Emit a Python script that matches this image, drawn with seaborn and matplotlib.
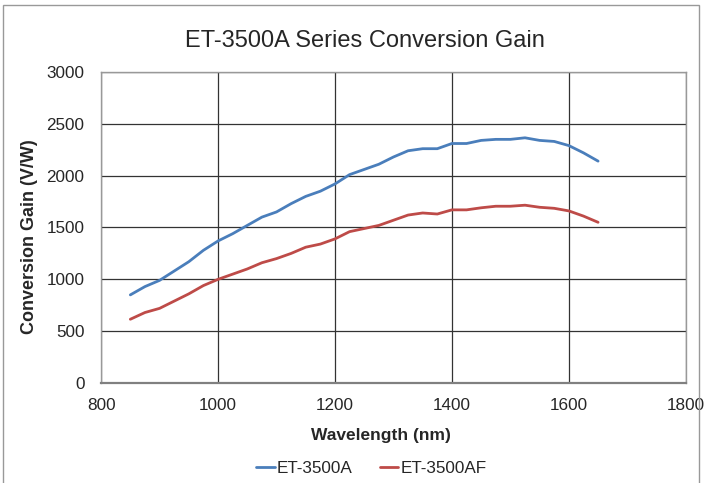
import numpy as np
import pandas as pd
import matplotlib.pyplot as plt
import seaborn as sns
from matplotlib.patches import Rectangle

# wavelength (nm), every 25 nm
wavelength = [850, 875, 900, 925, 950, 975, 1000, 1025, 1050, 1075, 1100,
              1125, 1150, 1175, 1200, 1225, 1250, 1275, 1300, 1325, 1350,
              1375, 1400, 1425, 1450, 1475, 1500, 1525, 1550, 1575, 1600,
              1625, 1650]
gain_a = [850, 930, 990, 1080, 1170, 1280, 1370, 1440, 1520, 1600, 1650,
          1730, 1800, 1850, 1920, 2010, 2060, 2110, 2180, 2240, 2260,
          2260, 2310, 2310, 2340, 2350, 2350, 2365, 2340, 2330, 2290,
          2220, 2140]
gain_af = [615, 680, 720, 790, 860, 940, 1000, 1050, 1100, 1160, 1200,
           1250, 1310, 1340, 1390, 1460, 1490, 1520, 1570, 1620, 1640,
           1630, 1670, 1670, 1690, 1705, 1705, 1715, 1695, 1685, 1660,
           1610, 1550]

df = pd.DataFrame({'Wavelength': wavelength * 2,
                   'Gain': gain_a + gain_af,
                   'Series': ['ET-3500A'] * len(wavelength) + ['ET-3500AF'] * len(wavelength)})

sns.set_style('white')
plt.rcParams['font.family'] = ['Liberation Sans', 'DejaVu Sans']

fig = plt.figure(figsize=(7.07, 4.83), dpi=100)
ax = fig.add_axes([0.143, 0.207, 0.827, 0.644])

sns.lineplot(data=df, x='Wavelength', y='Gain', hue='Series',
             palette=['#4A7EBB', '#BE4B48'], linewidth=2, ax=ax)

ax.set_xlim(800, 1800)
ax.set_ylim(0, 3000)
ax.set_xticks(np.arange(800, 1801, 200))
ax.set_yticks(np.arange(0, 3001, 500))
ax.grid(True, color='#333333', linewidth=0.9)
ax.set_axisbelow(True)
for s in ax.spines.values():
    s.set_color('#999999')
    s.set_linewidth(1.0)
ax.spines['bottom'].set_color('#808080')
ax.spines['bottom'].set_linewidth(1.6)
ax.tick_params(axis='both', which='both', direction='out', length=3.5,
               color='#888888', labelsize=12.3)
ax.tick_params(axis='x', pad=7.5)
ax.tick_params(axis='y', pad=8.5)

fig.text(0.516, 0.915, 'ET-3500A Series Conversion Gain', fontsize=17,
         ha='center', va='center')
ax.set_xlabel('Wavelength (nm)', fontsize=12.5, fontweight='bold')
ax.xaxis.set_label_coords(0.479, -0.145)
ax.set_ylabel('Conversion Gain (V/W)', fontsize=13, fontweight='bold')
ax.yaxis.set_label_coords(-0.108, 0.47)

leg = ax.legend(loc='center', bbox_to_anchor=(0.462, -0.275), ncol=2,
                frameon=False, fontsize=12.3, handlelength=1.1,
                handletextpad=0.1, columnspacing=1.6)

# chart-area border like the original
fig.patches.append(Rectangle((0.004, -0.01), 0.985, 1.0, transform=fig.transFigure,
                             fill=False, edgecolor='#999999', linewidth=1))

fig.savefig('out.png', dpi=100)
